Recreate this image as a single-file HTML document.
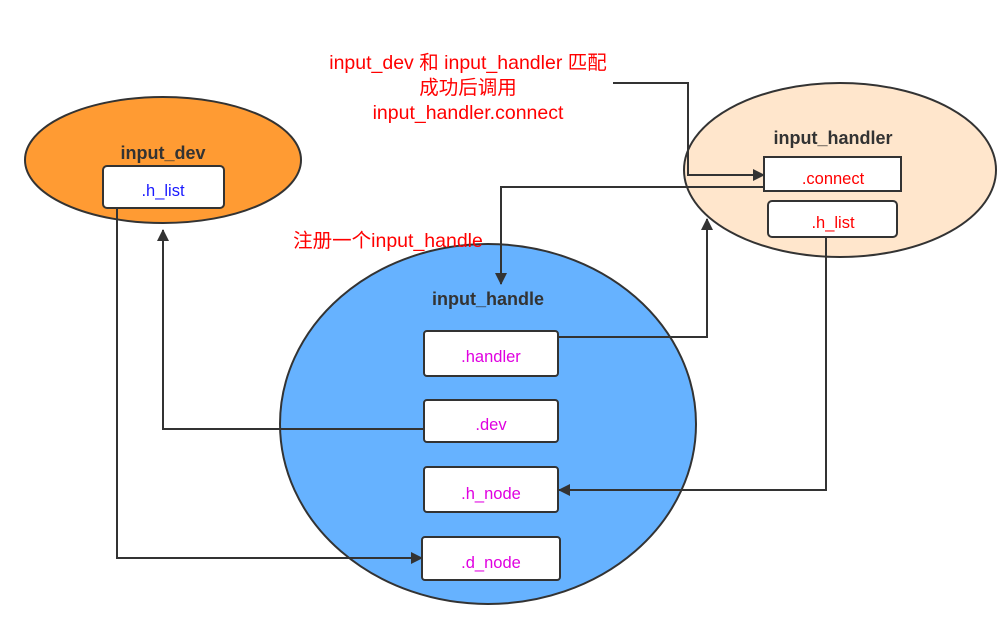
<!DOCTYPE html>
<html><head><meta charset="utf-8"><style>
html,body{margin:0;padding:0;background:#fff;}
svg{display:block;font-family:"Liberation Sans","Noto Sans CJK SC",sans-serif;}
</style></head><body>
<svg width="1008" height="628" viewBox="0 0 1008 628">
<defs><marker id="a" markerWidth="12" markerHeight="12" refX="11" refY="6" orient="auto" markerUnits="userSpaceOnUse"><path d="M0,0 L12,6 L0,12 z" fill="#333"/></marker></defs>
<ellipse cx="163" cy="160" rx="138" ry="63" fill="#ff9b33" stroke="#333" stroke-width="2"/>
<ellipse cx="840" cy="170" rx="156" ry="87" fill="#ffe6cc" stroke="#333" stroke-width="2"/>
<ellipse cx="488" cy="424" rx="208" ry="180" fill="#66b2ff" stroke="#333" stroke-width="2"/>
<text x="163" y="159" font-size="18" font-weight="bold" fill="#333" text-anchor="middle">input_dev</text>
<text x="833" y="144" font-size="18" font-weight="bold" fill="#333" text-anchor="middle">input_handler</text>
<text x="488" y="305" font-size="18" font-weight="bold" fill="#333" text-anchor="middle">input_handle</text>
<g stroke="#333" stroke-width="2" fill="#fff">
<rect x="103" y="166" width="121" height="42" rx="4"/>
<rect x="764" y="157" width="137" height="34"/>
<rect x="768" y="201" width="129" height="36" rx="4"/>
<rect x="424" y="331" width="134" height="45" rx="3"/>
<rect x="424" y="400" width="134" height="42" rx="3"/>
<rect x="424" y="467" width="134" height="45" rx="3"/>
<rect x="422" y="537" width="138" height="43" rx="3"/>
</g>
<g font-size="16.5" text-anchor="middle">
<text x="163" y="196" fill="#1a1aff">.h_list</text>
<text x="833" y="184" fill="#ff0000">.connect</text>
<text x="833" y="228" fill="#ff0000">.h_list</text>
<text x="491" y="362" fill="#e000e0">.handler</text>
<text x="491" y="430" fill="#e000e0">.dev</text>
<text x="491" y="499" fill="#e000e0">.h_node</text>
<text x="491" y="568" fill="#e000e0">.d_node</text>
</g>
<g font-size="19.5" fill="#ff0000" text-anchor="middle">
<text x="468" y="69">input_dev 和 input_handler 匹配</text>
<text x="468" y="94">成功后调用</text>
<text x="468" y="119">input_handler.connect</text>
<text x="388" y="247">注册一个input_handle</text>
</g>
<g stroke="#333" stroke-width="2" fill="none" marker-end="url(#a)">
<polyline points="613,83 688,83 688,175 764,175"/>
<polyline points="764,187 501,187 501,284"/>
<polyline points="558,337 707,337 707,219"/>
<polyline points="826,237 826,490 559,490"/>
<polyline points="424,429 163,429 163,230"/>
<polyline points="117,208 117,558 422,558"/>
</g>
</svg>
</body></html>
